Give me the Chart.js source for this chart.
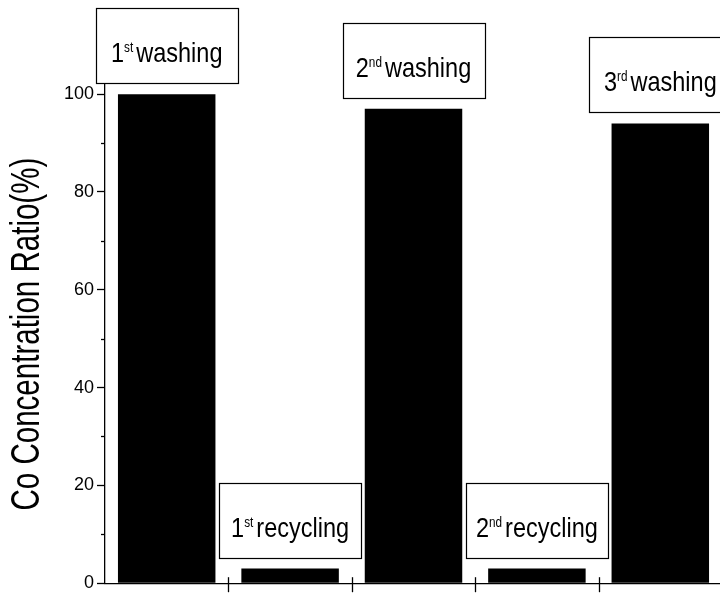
<!DOCTYPE html>
<html>
<head>
<meta charset="utf-8">
<script src="https://cdn.jsdelivr.net/npm/chart.js@4.4.1/dist/chart.umd.min.js"></script>
<style>
  html, body { margin: 0; padding: 0; background: #fff; overflow: hidden; }
  #wrap { width: 720px; height: 597px; overflow: hidden; }
</style>
</head>
<body>
<div id="wrap"><canvas id="chart" width="722" height="597"></canvas></div>
<script>
// data
const categories = ['1st washing', '1st recycling', '2nd washing', '2nd recycling', '3rd washing'];
const ordinals = ['1', '1', '2', '2', '3'];
const suffixes = ['st', 'st', 'nd', 'nd', 'rd'];
const stepWords = ['washing', 'recycling', 'washing', 'recycling', 'washing'];
const coRatio = [100, 3, 97, 3, 94];
const yMajorTicks = [0, 20, 40, 60, 80, 100];
const yMinorTicks = [10, 30, 50, 70, 90];
const yTitle = 'Co Concentration Ratio(%)';

const SANS = '"Liberation Sans", Arial, sans-serif';

// no narrow font installed, so squeeze Liberation Sans horizontally
function narrowText(ctx, text, x, y, squeeze) {
    ctx.save();
    ctx.translate(x, y);
    ctx.scale(squeeze, 1);
    ctx.fillText(text, 0, 0);
    ctx.restore();
}

// draws what chart.js has no option for: crossing x ticks, minor y ticks,
// the offset axis title and the boxed labels over each bar
const extras = {
    id: 'extras',
    afterDraw(chart) {
        const ctx = chart.ctx;
        const area = chart.chartArea;
        const xs = chart.scales.x;
        const ys = chart.scales.y;
        ctx.save();
        ctx.strokeStyle = '#000';
        ctx.lineWidth = 1.3;

        // x ticks between the bars
        for (let i = 1; i < categories.length; i++) {
            const x = Math.round((xs.getPixelForValue(i - 1) + xs.getPixelForValue(i)) / 2) + 0.5;
            ctx.beginPath();
            ctx.moveTo(x, area.bottom - 6);
            ctx.lineTo(x, area.bottom + 9);
            ctx.stroke();
        }

        // minor y ticks
        yMinorTicks.forEach(v => {
            const y = Math.round(ys.getPixelForValue(v)) + 0.5;
            ctx.beginPath();
            ctx.moveTo(area.left - 4, y);
            ctx.lineTo(area.left, y);
            ctx.stroke();
        });

        // y title
        ctx.fillStyle = '#000';
        ctx.font = '41px ' + SANS;
        ctx.textAlign = 'center';
        ctx.textBaseline = 'middle';
        ctx.translate(28, (area.top + area.bottom) / 2 + 15);
        ctx.rotate(-Math.PI / 2);
        narrowText(ctx, yTitle, 0, 0, 0.72);
        ctx.restore();

        // boxed labels
        const squeeze = 0.84;
        const meta = chart.getDatasetMeta(0);
        meta.data.forEach((bar, i) => {
            const boxW = 142, boxH = 75;
            const bottom = bar.y - 11;
            const left = bar.x - boxW / 2;
            ctx.save();
            ctx.fillStyle = '#fff';
            ctx.fillRect(left, bottom - boxH, boxW, boxH);
            ctx.strokeStyle = '#000';
            ctx.lineWidth = 1.2;
            ctx.strokeRect(Math.round(left) + 0.5, Math.round(bottom - boxH) + 0.5, boxW, boxH);

            const bigFont = '28px ' + SANS;
            const supFont = '14px ' + SANS;
            ctx.font = bigFont;
            const wNum = ctx.measureText(ordinals[i]).width * squeeze;
            const wWord = ctx.measureText(stepWords[i]).width * squeeze;
            ctx.font = supFont;
            const wSup = ctx.measureText(suffixes[i]).width * squeeze;
            const gap = 3;
            const total = wNum + wSup + gap + wWord;
            let x = bar.x - total / 2;
            const base = bottom - 21;
            ctx.fillStyle = '#000';
            ctx.textAlign = 'left';
            ctx.textBaseline = 'alphabetic';
            ctx.font = bigFont;
            narrowText(ctx, ordinals[i], x, base, squeeze);
            x += wNum;
            ctx.font = supFont;
            narrowText(ctx, suffixes[i], x, base - 10, squeeze);
            x += wSup + gap;
            ctx.font = bigFont;
            narrowText(ctx, stepWords[i], x, base, squeeze);
            ctx.restore();
        });
    }
};

new Chart(document.getElementById('chart'), {
    type: 'bar',
    data: {
        labels: categories,
        datasets: [{
            data: coRatio,
            backgroundColor: '#000',
            borderWidth: 0,
            categoryPercentage: 1,
            barPercentage: 0.79
        }]
    },
    options: {
        responsive: false,
        animation: false,
        layout: { padding: { top: 55, right: 0, bottom: 0, left: 0 } },
        plugins: { legend: { display: false }, tooltip: { enabled: false } },
        scales: {
            x: {
                ticks: { display: false },
                grid: { display: false },
                border: { display: true, color: '#000', width: 1.3 },
                afterFit(scale) { scale.height = 8; }
            },
            y: {
                min: 0,
                max: 108,
                afterBuildTicks(scale) {
                    scale.ticks = yMajorTicks.concat(yMinorTicks)
                        .sort((a, b) => a - b)
                        .map(v => ({ value: v }));
                },
                afterFit(scale) { scale.width = 105; },
                ticks: {
                    color: '#000',
                    padding: 3,
                    font: { family: SANS, size: 18 },
                    callback: v => (yMajorTicks.includes(v) ? String(v) : '')
                },
                grid: {
                    drawOnChartArea: false,
                    drawTicks: true,
                    tickLength: 8,
                    tickWidth: 1.3,
                    tickColor: c => (c.tick && yMajorTicks.includes(c.tick.value) ? '#000' : 'rgba(0,0,0,0)')
                },
                border: { display: true, color: '#000', width: 1.3 }
            }
        }
    },
    plugins: [extras]
});
</script>
</body>
</html>
